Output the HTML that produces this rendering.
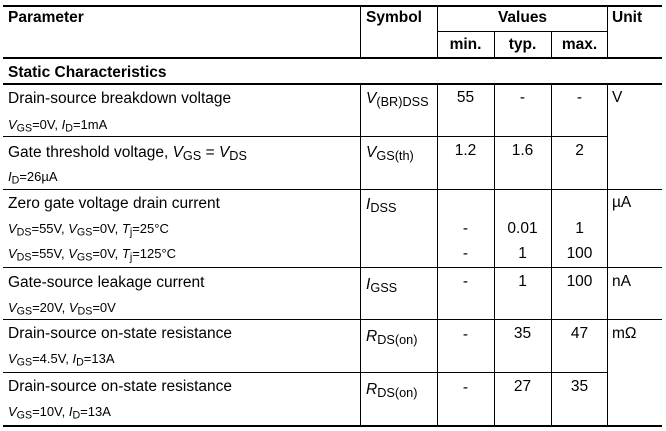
<!DOCTYPE html>
<html><head><meta charset="utf-8"><style>
body{margin:0;background:#fff;}
#c{position:relative;width:666px;height:431px;overflow:hidden;font-family:"Liberation Sans",Arial,sans-serif;color:#000;}
.h{position:absolute;height:1.3px;background:#000;}
.v{position:absolute;width:1.3px;background:#000;}
.t{position:absolute;line-height:16px;font-size:15.5px;white-space:nowrap;margin-top:1px;}
.s{font-size:13px;margin-top:0;}
.b{font-weight:bold;}
.c{text-align:center;}
sub{font-size:0.82em;vertical-align:-0.25em;line-height:0;}
i{font-style:italic;}
</style></head><body><div id="c">
<div class="h" style="left:3px;width:659px;top:5px;height:2px"></div>
<div class="h" style="left:437px;width:171px;top:31px"></div>
<div class="h" style="left:3px;width:659px;top:57px;height:2px"></div>
<div class="h" style="left:3px;width:659px;top:83px;height:2px"></div>
<div class="h" style="left:3px;width:605px;top:136px"></div>
<div class="h" style="left:3px;width:659px;top:189px"></div>
<div class="h" style="left:3px;width:659px;top:267px"></div>
<div class="h" style="left:3px;width:659px;top:319px"></div>
<div class="h" style="left:3px;width:605px;top:372px"></div>
<div class="h" style="left:3px;width:659px;top:425px;height:2px"></div>
<div class="v" style="left:360px;top:6px;height:51px"></div>
<div class="v" style="left:437px;top:6px;height:51px"></div>
<div class="v" style="left:494px;top:31px;height:26px"></div>
<div class="v" style="left:551px;top:31px;height:26px"></div>
<div class="v" style="left:607px;top:6px;height:51px"></div>
<div class="v" style="left:360px;top:84px;height:342px"></div>
<div class="v" style="left:437px;top:84px;height:342px"></div>
<div class="v" style="left:494px;top:84px;height:342px"></div>
<div class="v" style="left:551px;top:84px;height:342px"></div>
<div class="v" style="left:607px;top:84px;height:342px"></div>
<div class="t b" style="left:8px;top:9px">Parameter</div>
<div class="t b" style="left:366px;top:9px">Symbol</div>
<div class="t b c" style="left:437px;width:171px;top:9px">Values</div>
<div class="t b" style="left:612px;top:9px">Unit</div>
<div class="t b c" style="left:437px;width:57px;top:36px">min.</div>
<div class="t b c" style="left:494px;width:57px;top:36px">typ.</div>
<div class="t b c" style="left:551px;width:57px;top:36px">max.</div>
<div class="t b" style="left:8px;top:64px">Static Characteristics</div>
<div class="t" style="left:8px;top:90px">Drain-source breakdown voltage</div>
<div class="t s" style="left:8px;top:117px"><i>V</i><sub>GS</sub>=0V, <i>I</i><sub>D</sub>=1mA</div>
<div class="t" style="left:366px;top:90px"><i>V</i><sub>(BR)DSS</sub></div>
<div class="t c" style="left:437px;width:57px;top:89px">55</div>
<div class="t c" style="left:494px;width:57px;top:89px">-</div>
<div class="t c" style="left:551px;width:57px;top:89px">-</div>
<div class="t" style="left:612px;top:89px">V</div>
<div class="t" style="left:8px;top:144px">Gate threshold voltage, <i>V</i><sub>GS</sub> = <i>V</i><sub>DS</sub></div>
<div class="t s" style="left:8px;top:169px"><i>I</i><sub>D</sub>=26µA</div>
<div class="t" style="left:366px;top:144px"><i>V</i><sub>GS(th)</sub></div>
<div class="t c" style="left:437px;width:57px;top:142px">1.2</div>
<div class="t c" style="left:494px;width:57px;top:142px">1.6</div>
<div class="t c" style="left:551px;width:57px;top:142px">2</div>
<div class="t" style="left:8px;top:195px">Zero gate voltage drain current</div>
<div class="t s" style="left:8px;top:221px"><i>V</i><sub>DS</sub>=55V, <i>V</i><sub>GS</sub>=0V, <i>T</i><sub>j</sub>=25°C</div>
<div class="t s" style="left:8px;top:246px"><i>V</i><sub>DS</sub>=55V, <i>V</i><sub>GS</sub>=0V, <i>T</i><sub>j</sub>=125°C</div>
<div class="t" style="left:366px;top:196px"><i>I</i><sub>DSS</sub></div>
<div class="t" style="left:612px;top:194px">µA</div>
<div class="t c" style="left:437px;width:57px;top:220px">-</div>
<div class="t c" style="left:494px;width:57px;top:220px">0.01</div>
<div class="t c" style="left:551px;width:57px;top:220px">1</div>
<div class="t c" style="left:437px;width:57px;top:245px">-</div>
<div class="t c" style="left:494px;width:57px;top:245px">1</div>
<div class="t c" style="left:551px;width:57px;top:245px">100</div>
<div class="t" style="left:8px;top:274px">Gate-source leakage current</div>
<div class="t s" style="left:8px;top:300px"><i>V</i><sub>GS</sub>=20V, <i>V</i><sub>DS</sub>=0V</div>
<div class="t" style="left:366px;top:276px"><i>I</i><sub>GSS</sub></div>
<div class="t c" style="left:437px;width:57px;top:273px">-</div>
<div class="t c" style="left:494px;width:57px;top:273px">1</div>
<div class="t c" style="left:551px;width:57px;top:273px">100</div>
<div class="t" style="left:612px;top:273px">nA</div>
<div class="t" style="left:8px;top:325px">Drain-source on-state resistance</div>
<div class="t s" style="left:8px;top:351px"><i>V</i><sub>GS</sub>=4.5V, <i>I</i><sub>D</sub>=13A</div>
<div class="t" style="left:366px;top:328px"><i>R</i><sub>DS(on)</sub></div>
<div class="t c" style="left:437px;width:57px;top:326px">-</div>
<div class="t c" style="left:494px;width:57px;top:325px">35</div>
<div class="t c" style="left:551px;width:57px;top:325px">47</div>
<div class="t" style="left:612px;top:325px">mΩ</div>
<div class="t" style="left:8px;top:378px">Drain-source on-state resistance</div>
<div class="t s" style="left:8px;top:404px"><i>V</i><sub>GS</sub>=10V, <i>I</i><sub>D</sub>=13A</div>
<div class="t" style="left:366px;top:381px"><i>R</i><sub>DS(on)</sub></div>
<div class="t c" style="left:437px;width:57px;top:379px">-</div>
<div class="t c" style="left:494px;width:57px;top:378px">27</div>
<div class="t c" style="left:551px;width:57px;top:378px">35</div>
</div></body></html>
